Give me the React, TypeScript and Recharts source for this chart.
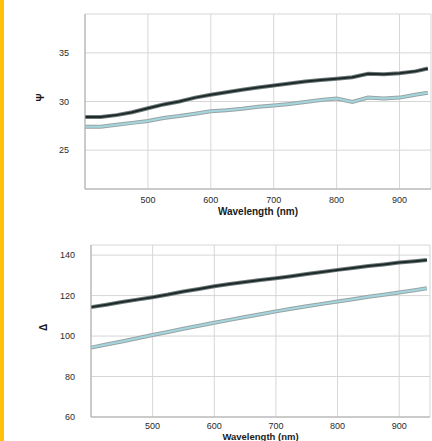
import React from 'react';
import { LineChart, Line, XAxis, YAxis, CartesianGrid } from 'recharts';

const wavelengths = [400, 425, 450, 475, 500, 525, 550, 575, 600, 625, 650, 675, 700, 725, 750, 775, 800, 825, 850, 875, 900, 925, 945];
const psiSampleA = [28.4, 28.4, 28.6, 28.9, 29.3, 29.7, 30.0, 30.4, 30.7, 30.95, 31.2, 31.45, 31.65, 31.85, 32.05, 32.2, 32.35, 32.5, 32.85, 32.8, 32.9, 33.1, 33.4];
const psiSampleB = [27.4, 27.4, 27.6, 27.8, 28.0, 28.3, 28.5, 28.75, 29.0, 29.1, 29.25, 29.45, 29.6, 29.75, 29.95, 30.15, 30.3, 29.95, 30.4, 30.3, 30.4, 30.7, 30.9];
const deltaSampleA = [114.3, 115.5, 116.8, 118.0, 119.2, 120.5, 122.0, 123.3, 124.6, 125.7, 126.7, 127.7, 128.6, 129.6, 130.7, 131.7, 132.7, 133.6, 134.6, 135.4, 136.3, 137.0, 137.6];
const deltaSampleB = [94.3, 95.8, 97.3, 98.9, 100.5, 102.0, 103.6, 105.1, 106.6, 108.0, 109.4, 110.8, 112.2, 113.5, 114.7, 115.9, 117.1, 118.2, 119.4, 120.4, 121.5, 122.6, 123.6];

const xTicks = [500, 600, 700, 800, 900];
const psiTicks = [25, 30, 35];
const deltaTicks = [60, 80, 100, 120, 140];

const psiData = wavelengths.map((w, i) => ({ w, a: psiSampleA[i], b: psiSampleB[i] }));
const deltaData = wavelengths.map((w, i) => ({ w, a: deltaSampleA[i], b: deltaSampleB[i] }));

const FONT = 'Liberation Sans, Arial, sans-serif';
const tickStyle = { fontSize: 9, fill: '#2a2a2a', fontFamily: FONT };
const labelStyle = { fontSize: 10, fontWeight: 'bold', fill: '#1a1a1a', fontFamily: FONT };

export default function App() {
  const lines = [
    <Line key="ma" dataKey="a" stroke="#6f7878" strokeWidth={4} dot={false} isAnimationActive={false} type="linear" />,
    <Line key="a" dataKey="a" stroke="#1c2a2a" strokeWidth={2} dot={false} isAnimationActive={false} type="linear" />,
    <Line key="mb" dataKey="b" stroke="#9aa3a3" strokeWidth={4} dot={false} isAnimationActive={false} type="linear" />,
    <Line key="b" dataKey="b" stroke="#a4d6df" strokeWidth={2} dot={false} isAnimationActive={false} type="linear" />,
  ];
  return (
    <div style={{ position: 'absolute', left: 0, top: 0, width: 432, height: 441, background: '#fff', overflow: 'hidden' }}>
      <div style={{ position: 'absolute', left: 0, top: 0, width: 4, height: 441, background: '#FFC107' }} />
      <div style={{ position: 'absolute', left: 0, top: 0 }}>
        <LineChart width={432} height={220} data={psiData} margin={{ top: 14, right: 1, left: 0, bottom: 0 }}>
          <CartesianGrid stroke="#d6d6d6" />
          <XAxis dataKey="w" type="number" domain={[400, 950]} ticks={xTicks} height={31} tickLine={false}
            axisLine={{ stroke: '#aaa' }} tick={tickStyle} tickMargin={2}
            label={{ value: 'Wavelength (nm)', position: 'insideBottom', offset: 5, style: labelStyle }} />
          <YAxis type="number" domain={[21, 39]} ticks={psiTicks} width={85} tickLine={false}
            axisLine={{ stroke: '#aaa' }} tick={tickStyle} tickMargin={10}
            label={{ value: 'Ψ', angle: -90, position: 'insideLeft', offset: 40, style: labelStyle }} />
          {lines}
        </LineChart>
      </div>
      <div style={{ position: 'absolute', left: 0, top: 220 }}>
        <LineChart width={432} height={221} data={deltaData} margin={{ top: 25, right: 2, left: 0, bottom: 0 }}>
          <CartesianGrid stroke="#d6d6d6" />
          <XAxis dataKey="w" type="number" domain={[400, 950]} ticks={xTicks} height={24} tickLine={false}
            axisLine={{ stroke: '#aaa' }} tick={tickStyle} tickMargin={0}
            label={{ value: 'Wavelength (nm)', position: 'insideBottom', offset: 1, style: { ...labelStyle, fontSize: 9.5 } }} />
          <YAxis type="number" domain={[60, 145]} ticks={deltaTicks} width={91} tickLine={false}
            axisLine={{ stroke: '#aaa' }} tick={tickStyle} tickMargin={10}
            label={{ value: 'Δ', angle: -90, position: 'insideLeft', offset: 43, style: labelStyle }} />
          {lines}
        </LineChart>
      </div>
    </div>
  );
}
